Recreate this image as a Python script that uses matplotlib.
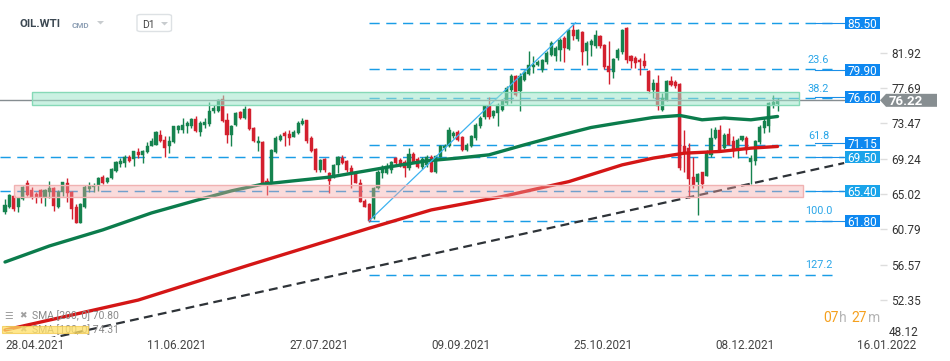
import numpy as np
import matplotlib.pyplot as plt
import matplotlib.transforms as mtransforms
from matplotlib.patches import Rectangle, Polygon, FancyBboxPatch

plt.rcParams['font.family'] = ['Roboto', 'DejaVu Sans']

# daily candles OIL.WTI, 28.04.2021 .. end of Dec 2021
opens = [62.91, 63.51, 64.79, 63.51, 64.39, 66.31, 65.51, 65.03, 65.51, 64.67,
         65.31, 65.71, 63.51, 65.31, 66.31, 65.31, 63.43, 61.59, 63.51, 65.59,
         65.83, 66.11, 67.03, 66.43, 66.91, 67.78, 68.59, 68.78, 69.50, 69.19,
         70.03, 69.62, 69.98, 70.78, 70.90, 72.10, 71.50, 70.70, 71.18, 72.70,
         72.70, 73.09, 73.09, 73.98, 72.49, 73.29, 73.41, 74.89, 74.89, 76.37,
         73.89, 72.10, 73.21, 74.82, 74.10, 75.21, 72.90, 71.10, 71.22, 66.62,
         66.31, 69.98, 71.50, 72.30, 72.18, 71.82, 72.30, 73.38, 73.89, 71.70,
         70.38, 67.91, 69.19, 67.51, 67.03, 68.50, 69.31, 69.02, 68.18, 67.58,
         66.38, 64.19, 63.83, 62.11, 65.71, 67.51, 67.58, 67.91, 69.31, 69.10,
         68.90, 68.11, 69.82, 69.19, 68.23, 68.50, 69.50, 67.70, 69.50, 70.46,
         70.70, 71.98, 72.42, 71.82, 70.30, 70.70, 71.70, 73.09, 74.22, 75.57,
         74.29, 74.70, 75.09, 75.89, 77.49, 79.16, 77.29, 78.69, 79.40, 80.20,
         80.48, 79.80, 80.76, 81.68, 81.48, 82.28, 83.68, 82.36, 84.59, 83.56,
         84.35, 82.16, 82.88, 82.70, 83.87, 82.88, 80.33, 79.58, 81.32, 81.98,
         84.88, 81.56, 81.32, 81.08, 80.96, 79.76, 77.49, 78.29, 75.09, 76.29,
         78.49, 78.41, 78.17, 70.70, 70.50, 67.10, 66.50, 67.63, 67.22, 69.62,
         71.70, 72.70, 70.50, 72.18, 71.38, 70.30, 71.50, 71.70, 68.90, 68.98,
         71.22, 72.90, 73.09, 75.61, 75.78]
highs = [64.39, 65.00, 64.87, 64.70, 66.00, 66.71, 65.83, 65.20, 65.59, 65.60,
         66.59, 65.80, 65.51, 66.50, 66.91, 65.40, 63.79, 63.91, 66.11, 66.47,
         66.31, 67.00, 67.30, 67.10, 68.11, 68.98, 69.31, 69.70, 69.66, 70.18,
         70.50, 70.30, 71.18, 71.70, 72.58, 72.70, 71.90, 71.98, 73.17, 73.30,
         74.10, 73.69, 74.10, 74.29, 73.69, 74.10, 75.97, 75.61, 76.41, 76.89,
         74.70, 73.30, 74.77, 74.90, 75.49, 75.29, 73.00, 71.90, 71.30, 66.90,
         70.38, 71.90, 72.18, 72.50, 72.70, 72.70, 73.69, 74.10, 73.90, 71.90,
         70.50, 69.19, 69.31, 67.70, 68.60, 69.60, 69.70, 69.10, 68.50, 67.70,
         66.79, 64.39, 63.99, 65.90, 67.90, 68.50, 68.70, 69.02, 69.50, 69.31,
         69.10, 70.50, 70.00, 69.40, 69.50, 69.70, 69.70, 69.70, 70.90, 71.00,
         73.00, 72.60, 72.70, 71.90, 71.10, 72.10, 73.50, 74.30, 75.70, 76.61,
         75.10, 75.90, 76.41, 77.90, 79.40, 79.30, 79.50, 79.80, 82.08, 81.48,
         81.00, 81.20, 82.10, 83.30, 82.68, 83.70, 83.90, 84.80, 85.40, 84.80,
         84.50, 83.30, 83.50, 84.68, 84.00, 83.00, 83.27, 81.30, 82.50, 84.80,
         85.00, 81.70, 81.50, 81.30, 81.92, 79.90, 78.80, 79.28, 77.10, 78.69,
         79.08, 78.69, 78.30, 72.70, 71.14, 69.50, 67.50, 67.70, 70.30, 72.90,
         72.97, 73.30, 72.30, 72.90, 71.90, 71.70, 71.90, 71.90, 69.70, 71.50,
         73.30, 74.10, 76.00, 76.89, 76.50]
lows = [62.60, 63.40, 63.03, 62.91, 64.30, 64.80, 64.39, 63.95, 63.91, 63.59,
        64.50, 63.03, 63.31, 64.79, 64.11, 61.99, 61.50, 61.52, 63.40, 65.31,
        65.31, 65.42, 66.23, 66.39, 66.83, 67.70, 68.23, 68.30, 68.90, 68.42,
        69.38, 68.74, 69.90, 70.70, 70.82, 71.20, 69.50, 69.90, 71.10, 72.30,
        72.30, 72.30, 72.90, 72.49, 71.90, 72.90, 73.20, 74.70, 74.77, 73.60,
        71.10, 70.78, 73.09, 74.00, 73.98, 72.70, 71.20, 70.10, 66.11, 64.91,
        66.23, 69.90, 71.30, 70.70, 70.90, 71.78, 72.18, 73.26, 71.10, 69.98,
        67.70, 67.70, 67.70, 65.19, 66.91, 67.51, 68.60, 67.70, 65.71, 66.30,
        64.03, 63.43, 61.71, 62.03, 65.63, 66.91, 67.40, 67.51, 68.60, 68.30,
        67.10, 67.90, 68.70, 68.10, 68.00, 68.30, 67.63, 67.58, 69.40, 70.20,
        70.62, 71.70, 71.30, 70.10, 70.10, 70.62, 71.50, 72.90, 74.00, 74.00,
        74.10, 73.09, 74.90, 75.70, 75.90, 76.70, 74.89, 78.50, 79.30, 79.50,
        80.30, 79.60, 80.60, 81.50, 80.88, 80.88, 80.76, 82.20, 83.48, 83.30,
        80.48, 80.50, 81.48, 82.50, 82.50, 80.00, 78.20, 78.90, 81.10, 81.80,
        80.70, 80.10, 80.10, 79.28, 80.10, 77.10, 76.49, 75.09, 75.00, 76.09,
        77.90, 77.73, 67.91, 67.70, 64.59, 65.71, 62.51, 65.71, 67.15, 69.50,
        71.62, 70.10, 70.40, 70.82, 69.50, 69.38, 71.30, 69.80, 66.19, 68.50,
        71.00, 72.30, 72.49, 75.30, 74.99]
closes = [63.71, 64.87, 63.27, 64.55, 65.90, 64.91, 64.67, 64.63, 64.71, 65.51,
          65.71, 63.59, 65.31, 66.43, 65.11, 63.20, 61.59, 63.83, 65.90, 65.99,
          66.02, 66.91, 66.39, 66.98, 67.99, 68.90, 68.98, 69.50, 69.02, 70.10,
          69.62, 70.18, 70.78, 71.30, 72.49, 71.30, 70.50, 71.38, 73.09, 73.17,
          73.29, 73.50, 73.98, 72.61, 73.50, 73.57, 74.89, 75.30, 76.29, 73.69,
          72.10, 73.17, 74.70, 74.10, 75.21, 72.78, 71.30, 71.38, 66.38, 66.23,
          70.30, 71.70, 72.01, 72.01, 71.70, 72.49, 73.50, 73.77, 71.30, 70.10,
          67.91, 69.10, 67.91, 66.62, 68.50, 69.43, 68.78, 67.91, 67.51, 66.38,
          64.11, 63.51, 61.83, 65.71, 67.70, 68.30, 68.38, 68.90, 68.78, 68.50,
          68.11, 69.82, 68.90, 68.30, 69.22, 69.50, 67.70, 69.58, 70.70, 70.78,
          72.70, 72.30, 71.50, 70.30, 70.90, 72.01, 73.29, 74.10, 75.49, 74.22,
          74.89, 75.69, 76.29, 77.69, 79.16, 76.89, 79.08, 79.56, 80.48, 80.48,
          80.76, 81.00, 81.88, 83.08, 82.48, 83.48, 82.48, 84.59, 83.87, 84.59,
          81.96, 83.12, 83.36, 84.00, 82.70, 80.18, 79.56, 81.16, 82.28, 84.68,
          81.08, 80.90, 80.69, 80.81, 80.30, 77.28, 78.29, 75.49, 76.49, 78.57,
          78.09, 77.89, 68.11, 69.90, 66.83, 66.11, 67.39, 66.19, 70.02, 71.70,
          72.70, 70.30, 72.10, 70.90, 70.18, 71.50, 71.90, 70.30, 69.31, 71.38,
          73.02, 73.77, 75.89, 76.02, 76.22]

# moving averages (bar number, value)
sma100_idx = [0, 10, 22, 33, 44, 51, 58, 65, 73, 80, 87, 95, 102, 109, 117,
              124, 132, 138, 146, 152, 157, 162, 168, 174]
sma100_val = [56.88, 58.80, 60.72, 62.75, 64.39, 65.39, 66.19, 66.59, 67.03,
              67.66, 68.30, 68.98, 69.31, 69.70, 70.90, 71.90, 72.97, 73.50,
              74.17, 74.41, 73.89, 74.10, 73.89, 74.29]
sma200_idx = [0, 30, 55, 82, 96, 112, 127, 139, 146, 153, 161, 168, 174]
sma200_val = [48.74, 52.33, 56.52, 60.92, 63.11, 64.71, 66.50, 68.50, 69.31,
              69.90, 70.10, 70.50, 70.70]

trend_idx = [0, 189]
trend_val = [46.56, 68.72]

fib_ratio = ['', '23.6', '38.2', '61.8', '100.0', '127.2']
fib_level = [85.50, 79.91, 76.45, 70.85, 61.80, 55.35]

box_level = [85.50, 79.90, 76.60, 71.15, 69.50, 65.40, 61.80]
box_text = ['85.50', '79.90', '76.60', '71.15', '69.50', '65.40', '61.80']
last_price = 76.22

green_zone = (6.1, 178.8, 75.72, 77.20)
red_zone = (2.0, 179.7, 64.62, 66.10)

ytick_vals = [81.92, 77.69, 73.47, 69.24, 65.02, 60.79, 56.57, 52.35]
ylow_label = '48.12'
date_idx = [0, 32, 64, 96, 128, 160, 192]
date_lab = ['28.04.2021', '11.06.2021', '27.07.2021', '09.09.2021',
            '25.10.2021', '08.12.2021', '16.01.2022']

W, H = 950, 361
fig = plt.figure(figsize=(W / 100, H / 100), dpi=100)
ax = fig.add_axes([0, 24 / H, 880 / W, 337 / H])
ax.set_xlim(-1.13, 197.07)
ax.set_ylim(47.91, 88.22)
for s in ax.spines.values():
    s.set_visible(False)

GREEN = '#16834f'
RED = '#d3202e'
FIB = '#1a9de6'

o = np.array(opens)
h = np.array(highs)
l = np.array(lows)
c = np.array(closes)
x = np.arange(len(o))
col = np.where(c >= o, GREEN, RED)
ax.vlines(x, l, h, colors=col, lw=1, zorder=3)
ax.bar(x, np.maximum(np.abs(c - o), 0.1), bottom=np.minimum(o, c), width=0.7,
       color=col, edgecolor=col, lw=0.3, zorder=4)

ax.plot(sma100_idx, sma100_val, color='#0b7c4c', lw=2.4, zorder=5, solid_capstyle='round')
ax.plot(sma200_idx, sma200_val, color='#d41616', lw=2.4, zorder=5, solid_capstyle='round')
ax.plot(trend_idx, trend_val, color='#2e3338', lw=1.6, ls=(0, (4, 2.4)), zorder=5)

# fibonacci drawing
ax.hlines(fib_level, 82, 187.5, colors=FIB, lw=1.05, linestyles=(0, (7, 4.5)), zorder=2)
ax.plot([82, 128.5], [61.80, 85.50], color='#3db2f0', lw=0.9, zorder=5)
for r, v in zip(fib_ratio, fib_level):
    if r:
        ax.text(183.2, v + 0.55, r, color='#2aa6e8', fontsize=7.8, ha='center',
                va='bottom', zorder=6)

# horizontal levels from the left edge
ax.hlines([69.50, 65.40], -1.13, 189, colors=FIB, lw=1.05,
          linestyles=(0, (7, 4.5)), zorder=2)
ax.axhline(last_price, color='#868d91', lw=1, zorder=6)

ax.add_patch(Rectangle((green_zone[0], green_zone[2]), green_zone[1] - green_zone[0],
                       green_zone[3] - green_zone[2], fc='#a0e6cb', alpha=0.55,
                       ec='none', zorder=7))
ax.add_patch(Rectangle((green_zone[0], green_zone[2]), green_zone[1] - green_zone[0],
                       green_zone[3] - green_zone[2], fc='none', ec='#86d9b7',
                       lw=1, zorder=7))
ax.add_patch(Rectangle((red_zone[0], red_zone[2]), red_zone[1] - red_zone[0],
                       red_zone[3] - red_zone[2], fc='#f4a6a6', alpha=0.4,
                       ec='none', zorder=7))
ax.add_patch(Rectangle((red_zone[0], red_zone[2]), red_zone[1] - red_zone[0],
                       red_zone[3] - red_zone[2], fc='none', ec='#f0b2b2',
                       lw=1, zorder=7))

# price boxes on the right
tb = mtransforms.blended_transform_factory(ax.transAxes, ax.transData)
bh = 12 / 8.36
for v, t in zip(box_level, box_text):
    fc = '#1aa4ea' if t in ('69.50', '65.40') else '#0e88f0'
    ax.plot([815 / 880, 845 / 880], [v, v], color='#1a8fe8', lw=0.8,
            transform=tb, zorder=9, clip_on=False)
    ax.add_patch(Rectangle((845 / 880, v - bh / 2), 35 / 880, bh, fc=fc, ec='none',
                           transform=tb, zorder=10, clip_on=False))
    ax.text(862.5 / 880, v, t, color='white', fontsize=8.5, ha='center',
            va='center_baseline', transform=tb, zorder=11)

tf = mtransforms.blended_transform_factory(fig.transFigure, ax.transData)
ph = 6.5 / 8.36
ax.add_patch(Polygon([(880 / W, last_price), (886 / W, last_price + ph),
                      (937 / W, last_price + ph), (937 / W, last_price - ph),
                      (886 / W, last_price - ph)], closed=True, fc='#878e91',
                     ec='none', transform=tf, zorder=10, clip_on=False))
ax.text(906 / W, last_price, f'{last_price:.2f}', color='white', fontsize=9.5,
        fontweight='bold', ha='center', va='center_baseline', transform=tf, zorder=11)

ax.yaxis.tick_right()
ax.set_yticks(ytick_vals)
ax.set_yticklabels([f'{v:.2f}' for v in ytick_vals])
ax.tick_params(axis='y', length=5, width=1, color='#dddddd', pad=3,
               labelsize=8.5, labelcolor='#333333')
ax.set_xticks(date_idx)
ax.set_xticklabels(date_lab, ha='left')
ax.tick_params(axis='x', length=0, pad=1.5, labelsize=8.5, labelcolor='#444444')


def fx(px):
    return px / W


def fy(py):
    return 1 - py / H


# lowest price label is pushed up above the date row
fig.text(fx(889), fy(331), ylow_label, fontsize=8.5, color='#333333',
         va='center_baseline')

# header
fig.text(fx(20), fy(23), 'OIL.WTI', fontsize=8.2, fontweight='bold', color='#3c4852',
         va='center_baseline')
fig.text(fx(72), fy(24.5), 'CMD', fontsize=5.8, fontweight='bold', color='#8ea0b5',
         va='center_baseline')
fig.patches.append(Polygon([(fx(97), fy(21)), (fx(104), fy(21)), (fx(100.5), fy(24.5))],
                           closed=True, fc='#c8cccf', ec='none', transform=fig.transFigure))
fig.patches.append(FancyBboxPatch((fx(137), fy(31.5)), fx(34.5), 17 / H,
                                  boxstyle='round,pad=0,rounding_size=0.004',
                                  fc='white', ec='#dde1e4', lw=1, transform=fig.transFigure))
fig.text(fx(142), fy(24), 'D1', fontsize=7.5, color='#444444', va='center_baseline')
fig.patches.append(Polygon([(fx(161), fy(22)), (fx(168), fy(22)), (fx(164.5), fy(25.5))],
                           closed=True, fc='#c8cccf', ec='none', transform=fig.transFigure))

# legend
fig.patches.append(Rectangle((fx(2), fy(332.5)), fx(86), 6.5 / H, fc='#ffe066',
                             ec='#f3c94a', lw=0.8, alpha=0.75, transform=fig.transFigure,
                             zorder=20))
for yy, txt in [(315, 'SMA [200, 0] 70.80'), (329, 'SMA [100, 0] 74.31')]:
    fig.text(fx(4), fy(yy), '\u2630', fontsize=7, color='#a0a0a0',
             family='DejaVu Sans', va='center_baseline')
    fig.text(fx(19), fy(yy), '\u2716', fontsize=6.5, color='#a0a0a0',
             family='DejaVu Sans', va='center_baseline')
    fig.text(fx(31.5), fy(yy), txt, fontsize=7.5, color='#8a8a8a', va='center_baseline')

# countdown
for xx, txt, cc in [(823, '07', '#f5a01e'), (839, 'h', '#b5b5b5'),
                    (851.5, '27', '#f5a01e'), (868, 'm', '#b5b5b5')]:
    fig.text(fx(xx), fy(316), txt, fontsize=10, color=cc, va='center_baseline')

fig.savefig('out.png', dpi=100)
